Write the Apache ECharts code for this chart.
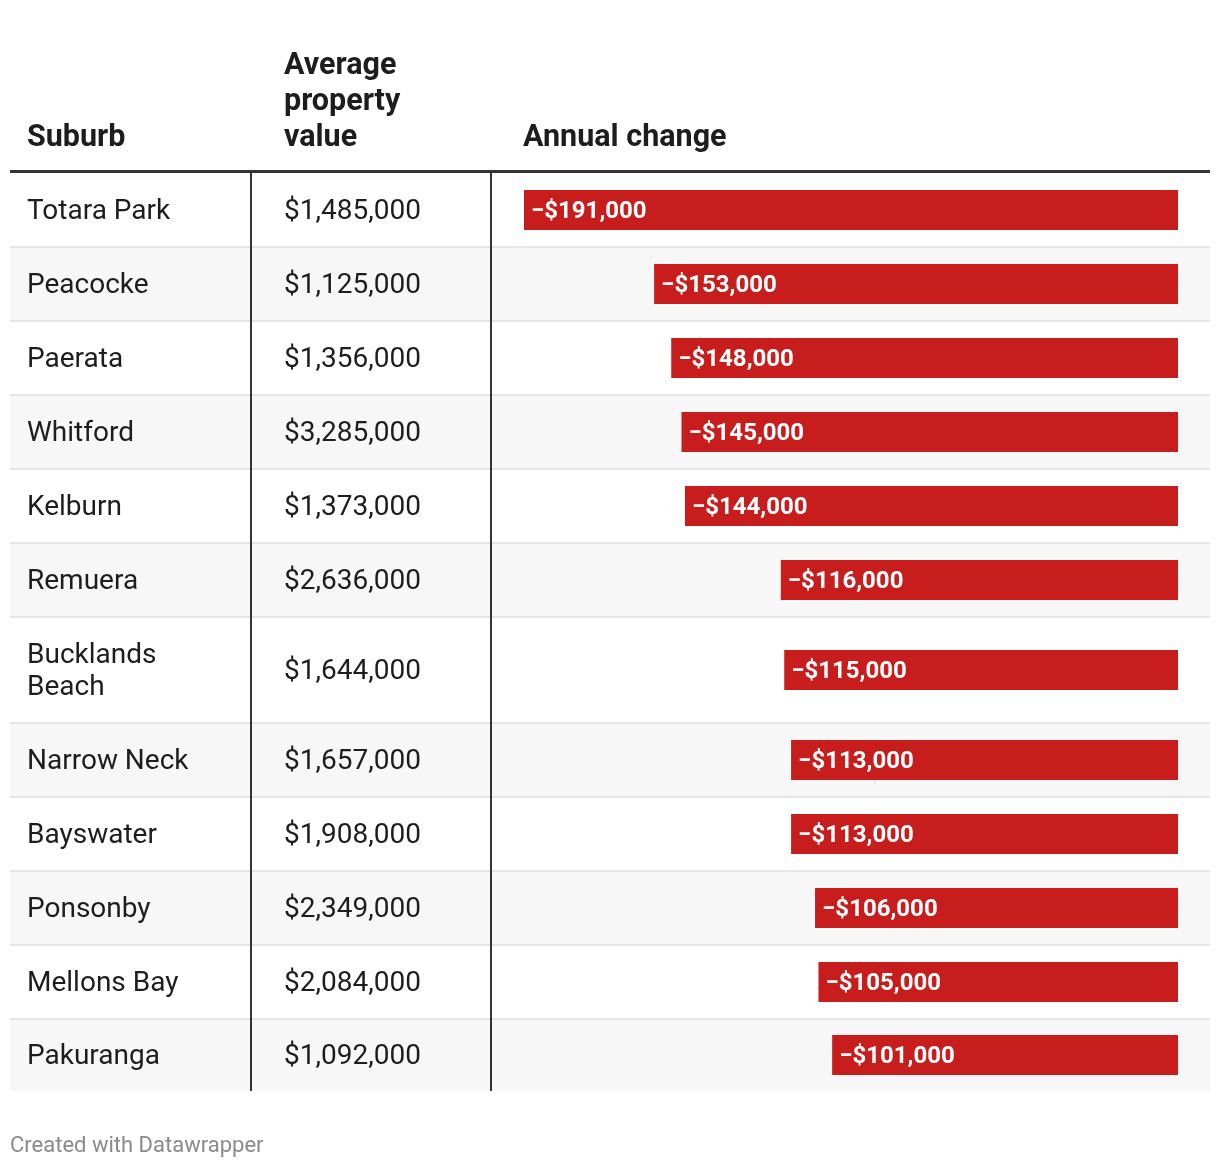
<!DOCTYPE html>
<html><head><meta charset="utf-8">
<script src="https://cdn.jsdelivr.net/npm/echarts@6/dist/echarts.min.js"></script>
<style>html,body{margin:0;padding:0;background:#fff}#c{width:1220px;height:1168px}</style>
</head><body><div id="c"></div>
<script>
const suburbs = ['Totara Park','Peacocke','Paerata','Whitford','Kelburn','Remuera','Bucklands\nBeach','Narrow Neck','Bayswater','Ponsonby','Mellons Bay','Pakuranga'];
const propertyValues = ['$1,485,000','$1,125,000','$1,356,000','$3,285,000','$1,373,000','$2,636,000','$1,644,000','$1,657,000','$1,908,000','$2,349,000','$2,084,000','$1,092,000'];
const annualChange = [-191000,-153000,-148000,-145000,-144000,-116000,-115000,-113000,-113000,-106000,-105000,-101000];
const headers = ['Suburb','Average\nproperty\nvalue','Annual change'];

// layout
const rowHeights = [74,74,74,74,74,74,106,74,74,74,74,72];
const tableTop = 173, tableLeft = 10, tableRight = 1210;
const col1X = 27, col2X = 284, col3X = 523;
const div1 = 251, div2 = 491;
const barLeft = 524, barRightPad = 42;
const FONT = 'Roboto, "Noto Sans", sans-serif';
const TXT_DY = 2;

const fmt = v => '\u2212$' + Math.abs(v).toLocaleString('en-US');

const grids = [], xAxes = [], yAxes = [], series = [], graphics = [];
let yCursor = tableTop;
const rowTops = [];
rowHeights.forEach((h) => { rowTops.push(yCursor); yCursor += h; });
const tableBottom = yCursor;

rowTops.forEach((t, i) => {
  const h = rowHeights[i];
  if (i % 2 === 1) graphics.push({type:'rect', z:-10, shape:{x:tableLeft, y:t, width:tableRight-tableLeft, height:h}, style:{fill:'#f7f7f7'}});
  if (i > 0) graphics.push({type:'line', z:-5, shape:{x1:tableLeft, y1:t, x2:tableRight, y2:t}, style:{stroke:'#e6e6e6', lineWidth:2}});
  const cy = t + h/2 + TXT_DY;
  graphics.push({type:'text', x:col1X, y:cy, style:{text:suburbs[i], font:'400 28px '+FONT, fill:'#1d1d1d', align:'left', verticalAlign:'middle', textAlign:'left', textVerticalAlign:'middle', lineHeight:32}});
  graphics.push({type:'text', x:col2X, y:cy, style:{text:propertyValues[i], font:'400 28px '+FONT, fill:'#1d1d1d', align:'left', verticalAlign:'middle', textAlign:'left', textVerticalAlign:'middle'}});

  grids.push({left:barLeft, right:barRightPad, top:t, height:h, containLabel:false});
  xAxes.push({type:'value', gridIndex:i, min:annualChange[0], max:0, show:false});
  yAxes.push({type:'category', gridIndex:i, data:[suburbs[i]], show:false});
  series.push({type:'bar', xAxisIndex:i, yAxisIndex:i, data:[annualChange[i]], barWidth:40,
    itemStyle:{color:'#c71e1d'}, silent:true, animation:false,
    label:{show:true, position:'insideLeft', distance:7, offset:[0,TXT_DY], formatter:p => fmt(p.value), color:'#fff', fontFamily:FONT, fontWeight:'bold', fontSize:24}});
});

graphics.push({type:'line', z:5, shape:{x1:tableLeft, y1:171.5, x2:tableRight, y2:171.5}, style:{stroke:'#333', lineWidth:3}});
graphics.push({type:'line', z:5, shape:{x1:div1, y1:173, x2:div1, y2:tableBottom}, style:{stroke:'#333', lineWidth:2}});
graphics.push({type:'line', z:5, shape:{x1:div2, y1:173, x2:div2, y2:tableBottom}, style:{stroke:'#333', lineWidth:2}});

const hStyle = {font:'700 30.5px '+FONT, fill:'#1d1d1d', align:'left', verticalAlign:'bottom', textAlign:'left', textVerticalAlign:'bottom', lineHeight:36};
graphics.push({type:'text', x:col1X, y:156, style:Object.assign({text:headers[0]}, hStyle)});
graphics.push({type:'text', x:col2X, y:156, style:Object.assign({text:headers[1]}, hStyle)});
graphics.push({type:'text', x:col3X, y:156, style:Object.assign({text:headers[2]}, hStyle)});

graphics.push({type:'text', x:10, y:1144 + TXT_DY, style:{text:'Created with Datawrapper', font:'400 22px '+FONT, fill:'#8a8a8a', align:'left', verticalAlign:'middle', textAlign:'left', textVerticalAlign:'middle'}});

const chart = echarts.init(document.getElementById('c'), null, {renderer:'canvas'});
chart.setOption({animation:false, backgroundColor:'#fff', grid:grids, xAxis:xAxes, yAxis:yAxes, series:series, graphic:graphics});
</script></body></html>
